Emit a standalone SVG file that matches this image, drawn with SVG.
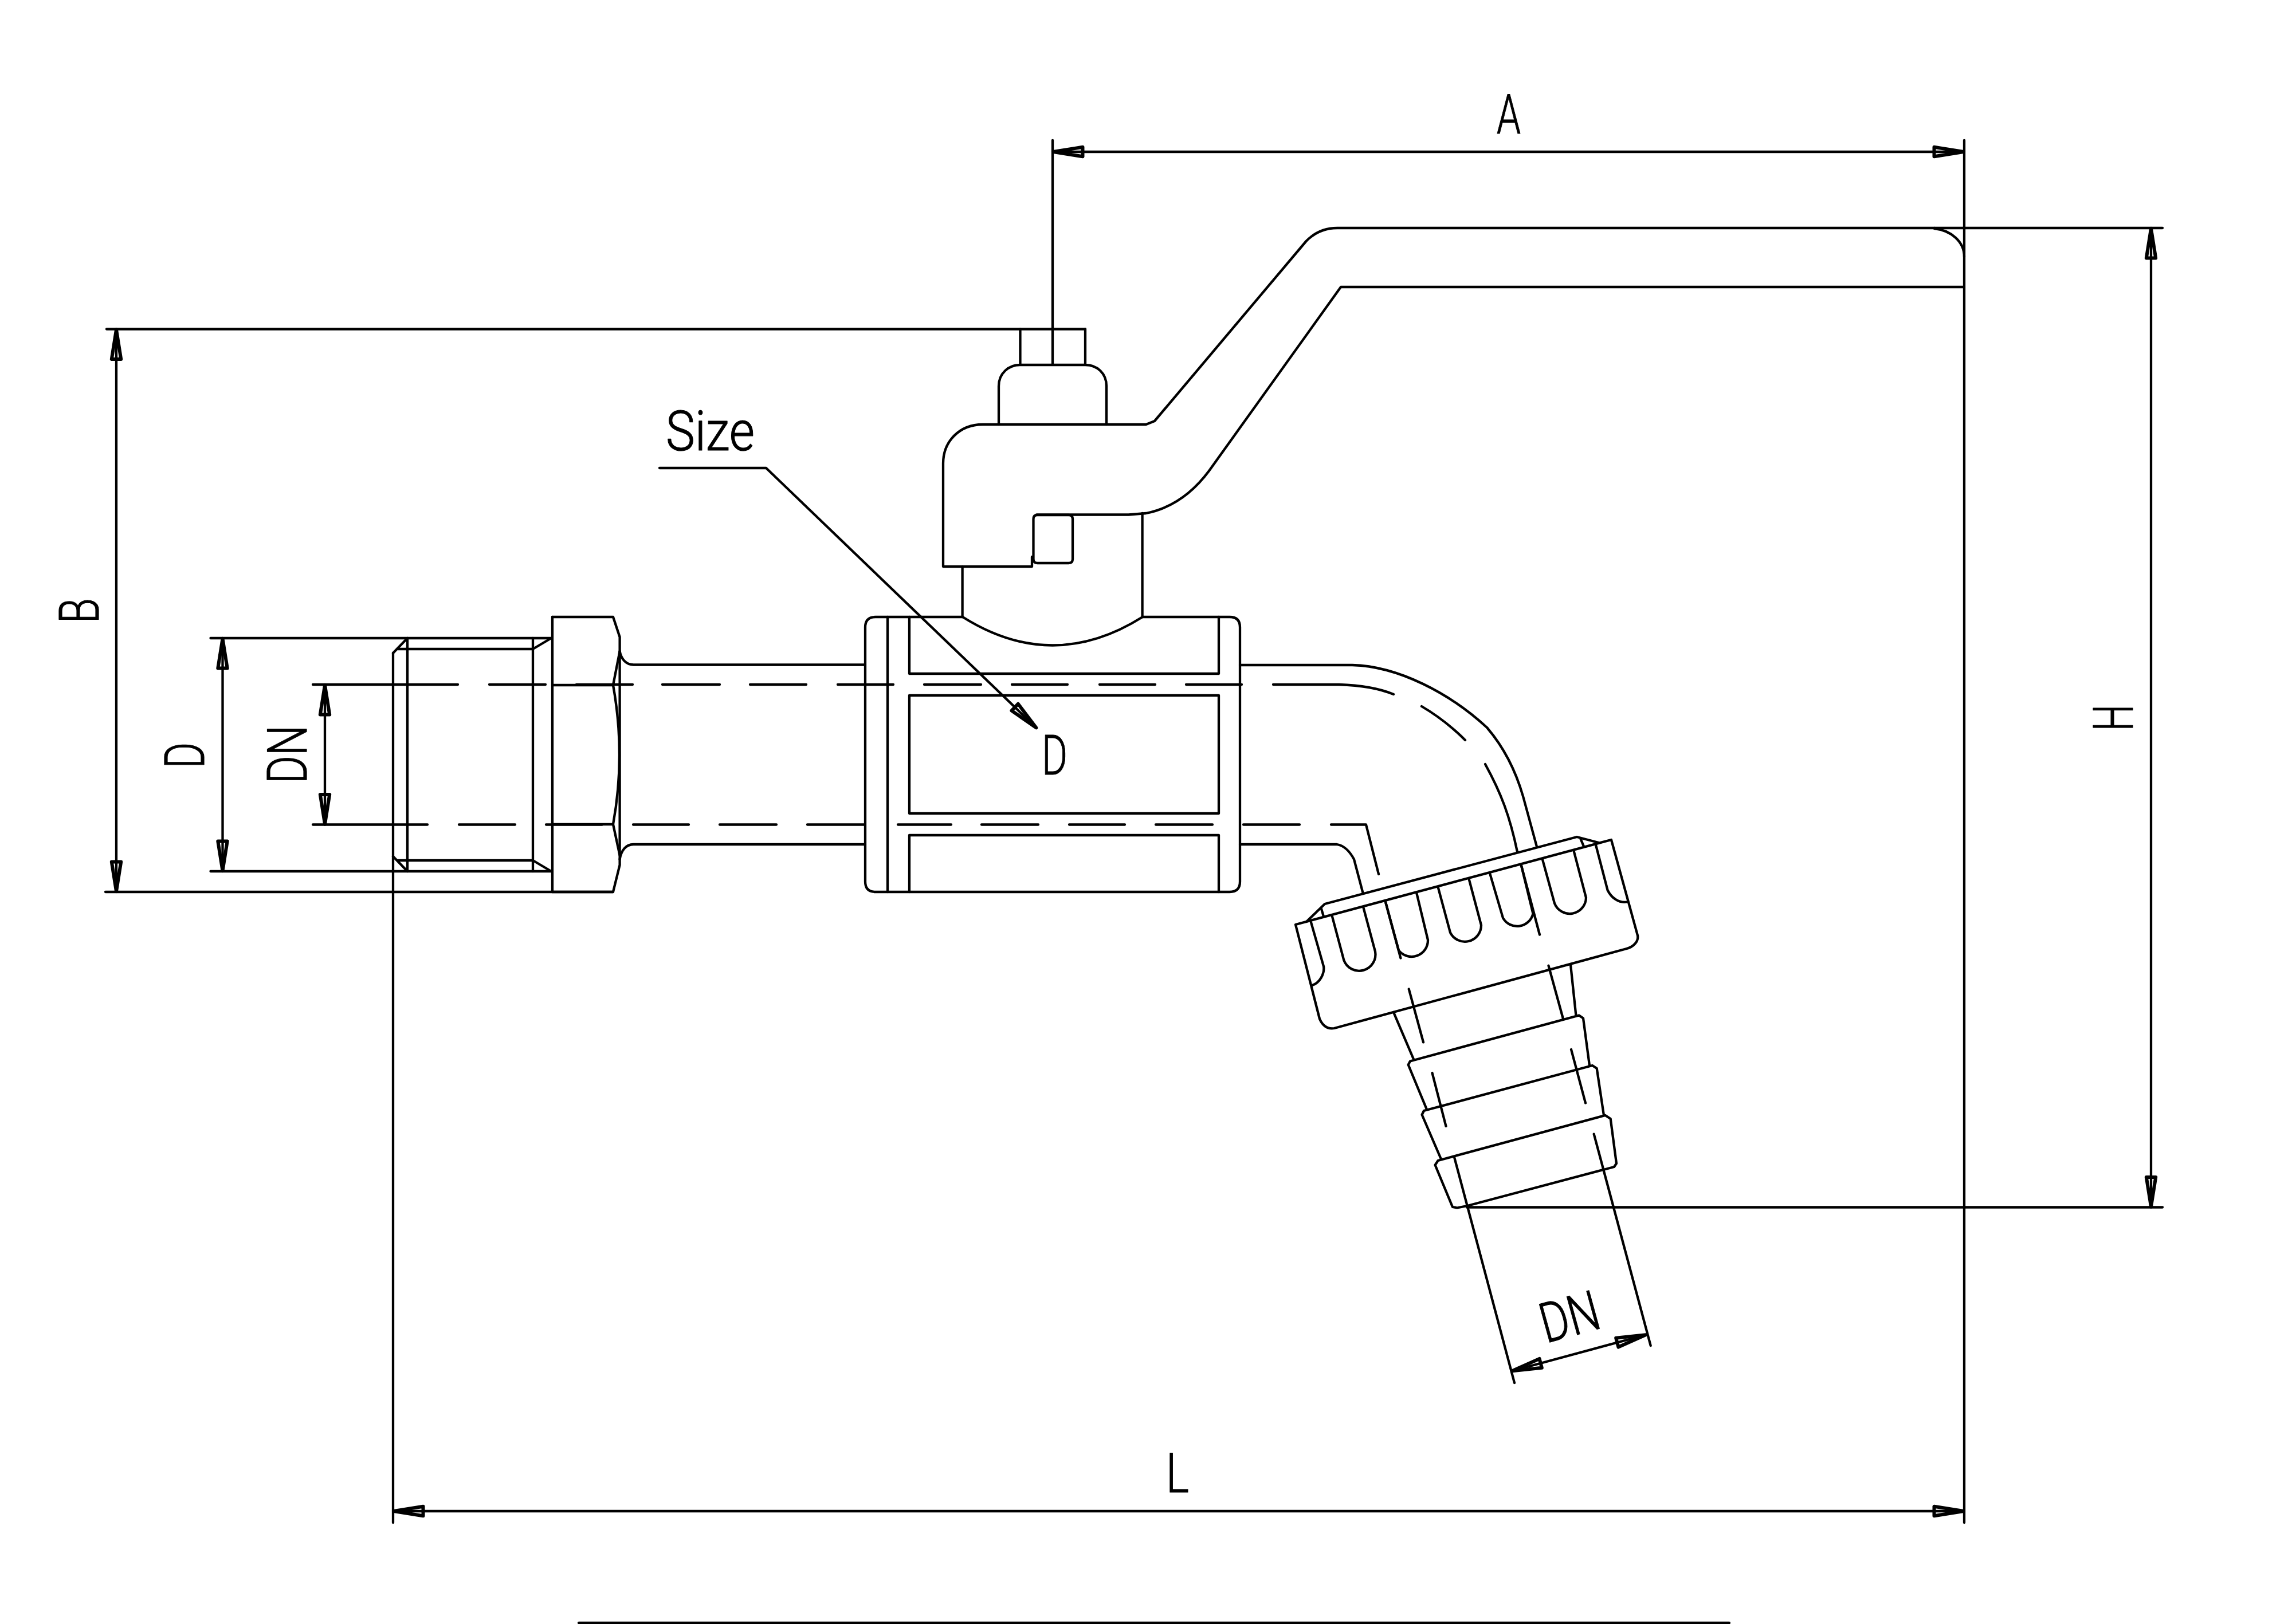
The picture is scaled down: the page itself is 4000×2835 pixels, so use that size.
<svg xmlns="http://www.w3.org/2000/svg" width="4000" height="2835" viewBox="0 0 4000 2835">
<style>
path{fill:none;stroke:#000;stroke-width:4.3;stroke-linejoin:round;stroke-linecap:round}
.d{marker-end:url(#ah);marker-start:url(#ah)}
.e{marker-end:url(#ah)}
text{font-family:"Roboto","Liberation Sans",sans-serif;font-weight:300;font-size:97px;fill:#000;stroke:#000;stroke-width:1.2;stroke-linejoin:round}
</style>
<defs>
<marker id="ah" markerUnits="userSpaceOnUse" viewBox="-5 -20 70 40" markerWidth="70" markerHeight="40" refX="55" refY="0" orient="auto-start-reverse">
<path d="M54 0L2.500 -8.200L2.500 8.200Z" style="stroke-width:6;fill:none;stroke:#000"/>
</marker>
</defs>
<rect width="4000" height="2835" fill="#fff"/>
<g id="handle">
<path d="M1780.5 574.5V636M1894 574.5V636"/>
<path d="M1743 741V674C1743 652 1760 637 1780 637H1894C1915 637 1931 652 1931 674V741"/>
<path d="M1801 972V989H1646V809C1646 770 1675 741 1715 741H2000L2015 735L2279.5 421C2295 405 2312 398 2334 398H3376"/>
<path d="M3376 399C3405 402 3428 422 3428 448"/>
<path d="M3428 501H2340L2110 822C2078 865 2040 888 2000 896L1969.5 898.5H1809"/>
<path d="M1810.5 899H1865Q1872 899 1872 906V976Q1872 983 1865 983H1810.5Q1803.5 983 1803.5 976V906Q1803.5 899 1810.5 899Z"/>
</g>
<g id="stem">
<path d="M1679.6 989V1077M1993.6 896V1077"/>
<path d="M1680 1077Q1837 1176 1994 1077"/>
</g>
<g id="body">
<path d="M1680 1077H1528Q1510 1077 1510 1095V1539Q1510 1557 1528 1557H2146Q2164 1557 2164 1539V1095Q2164 1077 2146 1077H1994"/>
<path d="M1549 1077V1557"/>
<path d="M1587 1077V1176H2127V1077M1587 1214H2127V1420H1587ZM1587 1557V1458H2127V1557"/>
</g>
<g id="nut">
<path d="M711 1114V1521M930 1114V1521"/>
<path d="M686 1140L711 1114M686 1495L711 1521"/>
<path d="M694 1133H930L962 1114M694 1502H930L962 1521"/>
<path d="M964 1077V1557"/>
<path d="M964 1077H1070L1081.6 1112V1510L1070 1557H964"/>
<path d="M1081.6 1137L1070 1196Q1092 1318 1070 1439L1081.6 1493"/>
<path d="M964 1196H1070M964 1439H1070"/>
</g>
<g id="pipe">
<path d="M1081.6 1137C1084 1150 1092 1160 1105.5 1160.5H1510"/>
<path d="M1081.6 1500C1084 1485 1092 1474 1105.5 1474H1510"/>
<path d="M2164 1161H2360C2440 1163 2530 1210 2595 1270C2625 1305 2645 1345 2658 1390L2682 1478"/>
<path d="M2164 1474H2333C2345 1476 2355 1485 2363 1500L2378.6 1559"/>
</g>
<g id="centerlines">
<path d="M546 1195H799M854 1195H952M1006 1195H1104M1156 1195H1256M1309 1195H1407M1462 1195H1559M1613 1195H1712M1766 1195H1863M1919 1195H2016M2070 1195H2167"/>
<path d="M2222 1195H2337C2370 1196 2405 1201 2432 1212"/>
<path d="M2481 1233C2510 1250 2535 1270 2557 1292"/>
<path d="M2592 1334C2620 1385 2635 1425 2648 1487"/>
<path d="M546 1439.5H746M801 1439.5H899M953 1439.5H1051M1105 1439.5H1202M1256 1439.5H1355M1409 1439.5H1508M1567 1439.5H1660M1713 1439.5H1812M1866 1439.5H1963M2017 1439.5H2116M2170 1439.5H2268"/>
<path d="M2323 1439.5H2384L2406 1526"/>
<path d="M2418 1574.5L2444.4 1672.5M2655 1511L2687 1631.6M2458.7 1726.5L2484 1819.4M2702.5 1685.7L2728 1778.6M2499.5 1873L2523.500 1966M2742 1832L2767 1925.5"/>
</g>
<g id="ring">
<path d="M2280 1609L2312 1578L2752 1461L2790 1471M2305.6 1585L2310 1600M2758.7 1465L2764 1477.5"/>
<path d="M2812 1466L2858 1633C2860 1644 2850 1653 2839 1656L2328.6 1795C2316 1797 2308 1790 2303 1778.6L2261 1614Z"/>
<path d="M2288 1610L2310 1687C2312 1700 2303 1716 2290 1720"/>
<path d="M2325 1600L2345.4 1676.5A28.5 28.5 0 0 0 2400 1661L2379.6 1585"/>
<path d="M2418 1574.5L2441 1659A28.5 28.5 0 0 0 2492 1641L2472.5 1560"/>
<path d="M2510 1550L2531 1628A28.5 28.5 0 0 0 2585 1615L2564 1536"/>
<path d="M2600.5 1526L2623 1602.5A28.5 28.5 0 0 0 2675.5 1595L2655 1511"/>
<path d="M2692 1500.5L2713 1577A28.5 28.5 0 0 0 2768 1567L2747 1487"/>
<path d="M2785 1475L2805.6 1554C2812 1567 2825 1577 2839 1574.5"/>
</g>
<g id="spout">
<path d="M2432 1767L2467 1849M2741 1684L2750.5 1773.5"/>
<path d="M2490 1936.7L2457.7 1858.7L2461 1852.5L2755.6 1772.5L2763 1777.6L2774 1860"/>
<path d="M2515 2023.5L2481.6 1946L2485 1939L2779 1860L2786.7 1865L2799 1947"/>
<path d="M2509.7 2026L2801.5 1947L2810.7 1953L2821 2031L2817 2037L2560.7 2105L2543 2108.5L2535 2107L2504.6 2033.7Z"/>
</g>
<g id="dimensions">
<path d="M1837 245V636M3428 245V2658M686 1140V2658"/>
<path d="M186 574.5H1894M184 1557H1070M367.5 1114H962M367.5 1521H962M2560 2107.500H3774M3376 398H3774"/>
<path class="d" d="M1837 265H3428"/>
<path class="d" d="M3754 398V2107.5"/>
<path class="d" d="M203 574.5V1557"/>
<path class="d" d="M388.5 1114V1521"/>
<path class="d" d="M567 1195V1439.5"/>
<path class="d" d="M686 2638H3428"/>
<path class="e" d="M1151 817H1337L1809 1271"/>
<path d="M2538 2020L2643 2414M2781.7 1979.7L2880.7 2349"/>
<path class="d" d="M2638 2393.5L2873 2330"/>
<path d="M1010 2833H3018"/>
</g>
<g id="labels">
<text x="2612" y="233" textLength="42" lengthAdjust="spacingAndGlyphs">A</text>
<text transform="translate(172,1088) rotate(-90)" textLength="44" lengthAdjust="spacingAndGlyphs">B</text>
<text transform="translate(3722,1276) rotate(-90)" textLength="46" lengthAdjust="spacingAndGlyphs">H</text>
<text transform="translate(356,1341) rotate(-90)" textLength="45" lengthAdjust="spacingAndGlyphs">D</text>
<text transform="translate(535,1368) rotate(-90)" textLength="102" lengthAdjust="spacingAndGlyphs">DN</text>
<text x="1818" y="1352" textLength="45" lengthAdjust="spacingAndGlyphs">D</text>
<text x="1162" y="786" textLength="155" lengthAdjust="spacingAndGlyphs">Size</text>
<text x="2035" y="2605" textLength="40" lengthAdjust="spacingAndGlyphs">L</text>
<text transform="translate(2698,2345) rotate(-15.4)" textLength="104" lengthAdjust="spacingAndGlyphs">DN</text>
</g>
</svg>
